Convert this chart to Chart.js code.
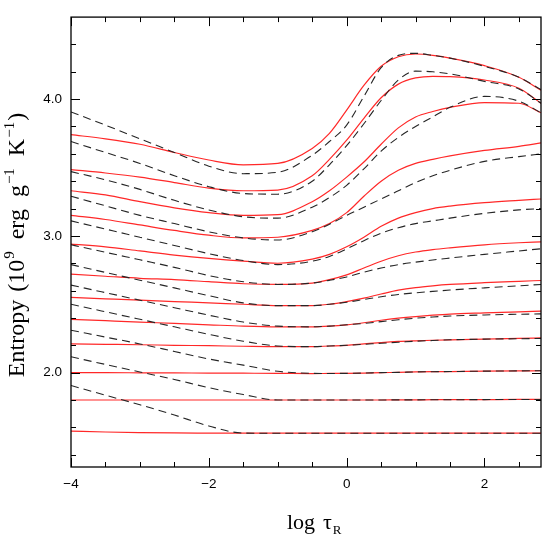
<!DOCTYPE html>
<html>
<head>
<meta charset="utf-8">
<script src="https://cdn.jsdelivr.net/npm/chart.js@4.4.0/dist/chart.umd.min.js"></script>
<style>
  html, body { margin: 0; padding: 0; background: #fff; }
</style>
</head>
<body>
<canvas id="myChart" width="554" height="554"></canvas>
<script>
// log tau_R grid, shared by all the curves
const logTau = [-4, -3.5, -3, -2.5, -2, -1.5, -1, -0.5, -0.25, 0, 0.25, 0.5, 0.75, 1, 1.25, 1.5, 2, 2.5, 2.82];

// red solid curves, top to bottom
const red1  = [3.74, 3.71, 3.67, 3.61, 3.555, 3.52, 3.53, 3.64, 3.75, 3.92, 4.10, 4.24, 4.31, 4.33, 4.32, 4.30, 4.245, 4.16, 4.065];
const red2  = [3.485, 3.46, 3.43, 3.39, 3.35, 3.33, 3.335, 3.44, 3.56, 3.70, 3.86, 4.01, 4.11, 4.155, 4.167, 4.165, 4.14, 4.08, 3.97];
const red3  = [3.33, 3.30, 3.25, 3.205, 3.17, 3.15, 3.155, 3.25, 3.33, 3.43, 3.54, 3.67, 3.79, 3.87, 3.91, 3.94, 3.975, 3.97, 3.90];
const red4  = [3.15, 3.12, 3.08, 3.04, 3.005, 2.985, 2.99, 3.04, 3.09, 3.17, 3.29, 3.40, 3.48, 3.53, 3.56, 3.585, 3.625, 3.655, 3.68];
const red5  = [2.94, 2.92, 2.89, 2.86, 2.835, 2.815, 2.80, 2.83, 2.865, 2.92, 2.99, 3.07, 3.13, 3.17, 3.20, 3.218, 3.243, 3.26, 3.27];
const red6  = [2.72, 2.705, 2.69, 2.68, 2.665, 2.65, 2.645, 2.655, 2.68, 2.715, 2.765, 2.815, 2.855, 2.882, 2.90, 2.913, 2.935, 2.95, 2.957];
const red7  = [2.55, 2.54, 2.53, 2.52, 2.51, 2.50, 2.49, 2.49, 2.50, 2.52, 2.545, 2.575, 2.603, 2.622, 2.635, 2.645, 2.658, 2.668, 2.674];
const red8  = [2.39, 2.38, 2.37, 2.36, 2.35, 2.34, 2.335, 2.335, 2.34, 2.35, 2.365, 2.383, 2.398, 2.41, 2.42, 2.428, 2.437, 2.445, 2.45];
const red9  = [2.21, 2.207, 2.204, 2.20, 2.197, 2.193, 2.19, 2.19, 2.195, 2.20, 2.21, 2.22, 2.228, 2.233, 2.237, 2.24, 2.245, 2.25, 2.254];
const red10 = [2.0, 2.0, 1.999, 1.998, 1.997, 1.996, 1.995, 1.993, 1.994, 1.995, 1.997, 2.0, 2.002, 2.005, 2.007, 2.008, 2.011, 2.013, 2.014];
const red11 = [1.80, 1.80, 1.80, 1.80, 1.80, 1.80, 1.80, 1.80, 1.80, 1.80, 1.80, 1.80, 1.801, 1.801, 1.802, 1.802, 1.803, 1.804, 1.804];
const red12 = [1.572, 1.566, 1.562, 1.559, 1.558, 1.557, 1.557, 1.557, 1.557, 1.557, 1.557, 1.557, 1.557, 1.557, 1.557, 1.557, 1.557, 1.557, 1.557];

// black dashed curves, top to bottom
const dash1  = [3.906, 3.81, 3.71, 3.61, 3.51, 3.455, 3.465, 3.59, 3.69, 3.81, 4.02, 4.23, 4.32, 4.335, 4.32, 4.30, 4.24, 4.16, 4.07];
const dash2  = [3.69, 3.61, 3.53, 3.44, 3.36, 3.31, 3.305, 3.40, 3.52, 3.66, 3.82, 3.99, 4.14, 4.205, 4.20, 4.185, 4.13, 4.075, 3.97];
const dash3  = [3.47, 3.41, 3.34, 3.26, 3.19, 3.14, 3.13, 3.21, 3.28, 3.37, 3.49, 3.62, 3.72, 3.80, 3.87, 3.94, 4.02, 3.985, 3.90];
const dash4  = [3.29, 3.22, 3.15, 3.09, 3.03, 2.985, 2.97, 3.03, 3.085, 3.15, 3.21, 3.27, 3.33, 3.39, 3.44, 3.48, 3.545, 3.58, 3.60];
const dash5  = [3.11, 3.05, 2.99, 2.93, 2.87, 2.82, 2.79, 2.815, 2.85, 2.905, 2.965, 3.02, 3.06, 3.09, 3.11, 3.13, 3.165, 3.19, 3.20];
const dash6  = [2.935, 2.88, 2.825, 2.77, 2.71, 2.665, 2.645, 2.655, 2.675, 2.70, 2.735, 2.765, 2.79, 2.808, 2.824, 2.838, 2.865, 2.89, 2.906];
const dash7  = [2.79, 2.733, 2.676, 2.62, 2.563, 2.51, 2.49, 2.49, 2.50, 2.515, 2.535, 2.555, 2.572, 2.584, 2.594, 2.604, 2.62, 2.635, 2.645];
const dash8  = [2.64, 2.585, 2.53, 2.475, 2.42, 2.37, 2.34, 2.335, 2.34, 2.35, 2.36, 2.373, 2.387, 2.398, 2.407, 2.414, 2.422, 2.427, 2.43];
const dash9  = [2.50, 2.445, 2.39, 2.335, 2.28, 2.23, 2.195, 2.19, 2.195, 2.20, 2.207, 2.215, 2.222, 2.23, 2.235, 2.24, 2.245, 2.248, 2.25];
const dash10 = [2.31, 2.26, 2.21, 2.155, 2.10, 2.055, 2.01, 1.995, 1.994, 1.995, 1.997, 2.0, 2.002, 2.005, 2.007, 2.008, 2.011, 2.013, 2.014];
const dash11 = [2.116, 2.06, 2.005, 1.95, 1.89, 1.84, 1.80, 1.80, 1.80, 1.80, 1.80, 1.80, 1.801, 1.801, 1.802, 1.802, 1.803, 1.804, 1.804];
const dash12 = [1.906, 1.835, 1.765, 1.69, 1.61, 1.558, 1.557, 1.557, 1.557, 1.557, 1.557, 1.557, 1.557, 1.557, 1.557, 1.557, 1.557, 1.557, 1.557];

const redCurves = [red1, red2, red3, red4, red5, red6, red7, red8, red9, red10, red11, red12];
const dashCurves = [dash1, dash2, dash3, dash4, dash5, dash6, dash7, dash8, dash9, dash10, dash11, dash12];

// ticks
const xMinorTicks = [-3.5, -3, -2.5, -1.5, -1, -0.5, 0.5, 1, 1.5, 2.5];
const xMajorTicks = [-4, -2, 0, 2];
const yMinorTicks = [1.4, 1.6, 1.8, 2.2, 2.4, 2.6, 2.8, 3.2, 3.4, 3.6, 3.8, 4.2, 4.4];
const yMajorTicks = [2, 3, 4];

const toPoints = (ys) => ys.map((y, i) => ({ x: logTau[i], y: y }));

const datasets = [];
redCurves.forEach((ys) => {
  datasets.push({
    data: toPoints(ys),
    borderColor: 'rgb(255,40,40)',
    borderWidth: 1.2,
    pointRadius: 0,
    cubicInterpolationMode: 'monotone',
    fill: false,
    order: 2,
  });
});
dashCurves.forEach((ys) => {
  datasets.push({
    data: toPoints(ys),
    borderColor: '#262626',
    borderWidth: 1.1,
    borderDash: [8, 5],
    pointRadius: 0,
    cubicInterpolationMode: 'monotone',
    fill: false,
    order: 1,
  });
});

// frame, inward ticks and axis titles
const framePlugin = {
  id: 'frame',
  afterDraw(chart) {
    const ctx = chart.ctx;
    const { left, right, top, bottom } = chart.chartArea;
    const xs = chart.scales.x;
    const ys = chart.scales.y;
    ctx.save();
    ctx.strokeStyle = '#000';
    ctx.lineWidth = 1.3;
    ctx.strokeRect(left, top, right - left, bottom - top);
    ctx.lineWidth = 1;
    const xTick = (v, len) => {
      const px = Math.round(xs.getPixelForValue(v)) + 0.5;
      ctx.beginPath();
      ctx.moveTo(px, bottom); ctx.lineTo(px, bottom - len);
      ctx.moveTo(px, top); ctx.lineTo(px, top + len);
      ctx.stroke();
    };
    const yTick = (v, len) => {
      const py = Math.round(ys.getPixelForValue(v)) + 0.5;
      ctx.beginPath();
      ctx.moveTo(left, py); ctx.lineTo(left + len, py);
      ctx.moveTo(right, py); ctx.lineTo(right - len, py);
      ctx.stroke();
    };
    xMinorTicks.forEach(v => xTick(v, 5));
    xMajorTicks.forEach(v => xTick(v, 9));
    yMinorTicks.forEach(v => yTick(v, 5));
    yMajorTicks.forEach(v => yTick(v, 9));

    ctx.fillStyle = '#000';
    ctx.textBaseline = 'alphabetic';
    ctx.textAlign = 'left';
    const serif = (size) => size + 'px "Liberation Serif", "DejaVu Serif", serif';

    // x title: log tau_R
    ctx.font = serif(22);
    ctx.fillText('log', 287, 529);
    ctx.fillText('τ', 323, 529);
    const tauW = ctx.measureText('τ').width;
    ctx.font = serif(13);
    ctx.fillText('R', 323 + tauW + 1, 534);

    // y title, rotated
    const parts = [
      { t: 'Entropy', s: 24, dy: 0, gap: 8 },
      { t: '(10', s: 24, dy: 0, gap: 1 },
      { t: '9', s: 15, dy: -10, gap: 12 },
      { t: 'erg', s: 24, dy: 0, gap: 12 },
      { t: 'g', s: 24, dy: 0, gap: 1 },
      { t: '−1', s: 15, dy: -10, gap: 12 },
      { t: 'K', s: 24, dy: 0, gap: 1 },
      { t: '−1', s: 15, dy: -10, gap: 1 },
      { t: ')', s: 24, dy: 0, gap: 0 },
    ];
    let total = 0;
    parts.forEach(p => { ctx.font = serif(p.s); p.w = ctx.measureText(p.t).width; total += p.w + p.gap; });
    ctx.translate(24, 245);
    ctx.rotate(-Math.PI / 2);
    let cx = -total / 2;
    parts.forEach(p => {
      ctx.font = serif(p.s);
      ctx.fillText(p.t, cx, p.dy);
      cx += p.w + p.gap;
    });
    ctx.restore();
  }
};

const tickFont = { family: '"Liberation Sans", Arial, sans-serif', size: 13.5 };

const ctx = document.getElementById('myChart').getContext('2d');
const myChart = new Chart(ctx, {
  type: 'line',
  data: { datasets: datasets },
  options: {
    responsive: false,
    animation: false,
    layout: { padding: { top: 13, right: 13, left: 0, bottom: 0 } },
    plugins: { legend: { display: false }, tooltip: { enabled: false } },
    scales: {
      x: {
        type: 'linear',
        min: -4,
        max: 2.82,
        afterFit: (s) => { s.height = 87; },
        grid: { display: false, drawTicks: false },
        border: { display: false },
        ticks: {
          stepSize: 2,
          includeBounds: false,
          padding: 9,
          maxRotation: 0,
          color: '#000',
          font: tickFont,
          callback: (v) => String(v).replace('-', '−'),
        },
      },
      y: {
        type: 'linear',
        min: 1.31,
        max: 4.6,
        afterFit: (s) => { s.width = 71; },
        grid: { display: false, drawTicks: false },
        border: { display: false },
        ticks: {
          stepSize: 1,
          includeBounds: false,
          padding: 9,
          color: '#000',
          font: tickFont,
          callback: (v) => v.toFixed(1),
        },
      },
    },
  },
  plugins: [framePlugin],
});
</script>
</body>
</html>
